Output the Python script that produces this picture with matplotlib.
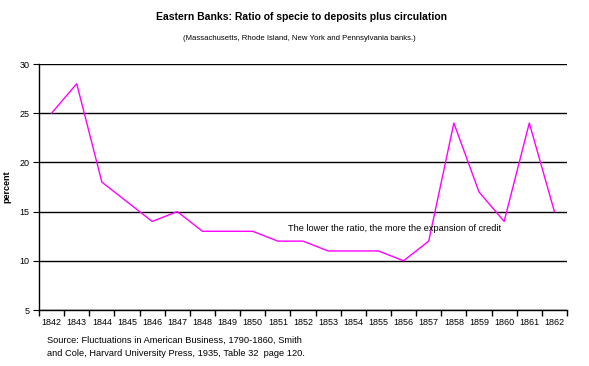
import numpy as np
import matplotlib.pyplot as plt

plt.rcParams['font.family'] = ['Liberation Sans', 'DejaVu Sans']

years = ['1842', '1843', '1844', '1845', '1846', '1847', '1848', '1849', '1850',
         '1851', '1852', '1853', '1854', '1855', '1856', '1857', '1858', '1859',
         '1860', '1861', '1862']
ratio = [25, 28, 18, 16, 14, 15, 13, 13, 13, 12, 12, 11, 11, 11, 10, 12, 24, 17,
         14, 24, 15]

fig = plt.figure(figsize=(5.89, 3.66), dpi=100)
ax = fig.add_axes([39 / 589, 1 - 310 / 366, 528 / 589, 246 / 366])

x = np.arange(len(years))
ax.plot(x, ratio, color='#ff00ff', linewidth=1)

ax.set_xlim(-0.5, len(years) - 0.5)
ax.set_ylim(5, 30)
ax.set_yticks([5, 10, 15, 20, 25, 30])
ax.yaxis.grid(True, color='black', linewidth=1)
ax.set_axisbelow(True)

ax.set_xticks(x)
ax.set_xticklabels(years, fontsize=6.5)
ax.set_xticks(np.arange(-0.5, len(years)), minor=True)
ax.tick_params(axis='x', which='major', length=0, pad=6)
ax.tick_params(axis='x', which='minor', length=4, width=1, color='black')
ax.tick_params(axis='y', length=4, labelsize=6.5, pad=3)

for side in ['top', 'right']:
    ax.spines[side].set_visible(False)
for side in ['left', 'bottom']:
    ax.spines[side].set_linewidth(1)
    ax.spines[side].set_color('black')

ylab = ax.set_ylabel('percent', fontsize=6.5, fontweight='bold')
ylab.set_verticalalignment('center')
ax.yaxis.set_label_coords(-0.061, 0.5)

ax.text(9.4, 13.3, 'The lower the ratio, the more the expansion of credit',
        fontsize=6.6, va='center', ha='left')

fig.text(302 / 589, 1 - 17 / 366,
         'Eastern Banks: Ratio of specie to deposits plus circulation',
         fontsize=7.5, fontweight='bold', ha='center', va='center')
fig.text(299 / 589, 1 - 38 / 366,
         '(Massachusetts, Rhode Island, New York and Pennsylvania banks.)',
         fontsize=5.6, ha='center', va='center')
fig.text(47 / 589, 1 - 340 / 366,
         'Source: Fluctuations in American Business, 1790-1860, Smith',
         fontsize=6.7, ha='left', va='center')
fig.text(47 / 589, 1 - 354 / 366,
         'and Cole, Harvard University Press, 1935, Table 32  page 120.',
         fontsize=6.7, ha='left', va='center')

fig.savefig('out.png', dpi=100)
